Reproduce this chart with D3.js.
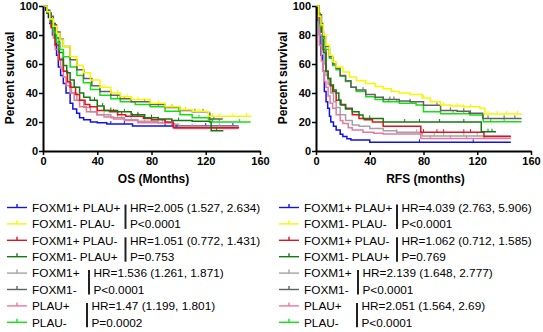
<!DOCTYPE html>
<html>
<head>
<meta charset="utf-8">
<title>FOXM1 PLAU survival</title>
<script src="https://cdnjs.cloudflare.com/ajax/libs/d3/7.8.5/d3.min.js"></script>
<style>
  body { margin: 0; background: #fff; }
  svg { display: block; font-family: Arial, "Liberation Sans", sans-serif; }
  .axis text { font-size: 11px; font-weight: bold; fill: #000; }
  .axis path, .axis line { stroke: #000; }
  .axis path { stroke-width: 2; }
  .axis line { stroke-width: 1.5; }
  .ttl { font-size: 12px; font-weight: bold; }
  .leg { font-size: 11.8px; }
</style>
</head>
<body>
<div id="chart"></div>
<script>
// groups, same order in both panels
const groups = ["FOXM1+ PLAU+", "FOXM1- PLAU-", "FOXM1+ PLAU-", "FOXM1- PLAU+", "FOXM1+", "FOXM1-", "PLAU+", "PLAU-"];
const colors = ["#1212e8", "#f7f700", "#e0141c", "#137a13", "#a3a3a3", "#626262", "#e8789e", "#14e014"];
const xTicks = [0, 40, 80, 120, 160];
const yTicks = [0, 20, 40, 60, 80, 100];

// OS curves [months, % survival]
const osBlue = [[0,100],[2,97],[4,92],[5,88],[7,80],[8.8,74],[10,66],[11.3,58],[13,52],[15,46.5],[17,40],[20,33],[22,29],[24.8,26],[27,23],[30,21.5],[35,20],[40,19.5],[47,18.6],[66,17.2],[144,17.2]];
const osYellow = [[0,100],[3,96],[5,91],[7.6,86],[10,81],[12.5,76.5],[15,72],[20,65],[25,59],[29.7,54],[35,49],[42,44],[50,40],[57,37.5],[65,35.5],[79,33],[90,30.5],[101,28.5],[110,27.5],[121,27],[122,24],[153,23.5]];
const osRed = [[0,100],[3,95],[6,85],[9,73],[12,63],[15,55],[18,48],[20,44],[24,39],[27,35],[31,32],[34.5,30.5],[40,28],[49,27],[55,25],[61,24],[74,22.5],[80,21.5],[90,20],[96,16],[144,15.5]];
const osDkGreen = [[0,100],[3,95],[6,88],[9,78],[12,68],[15,59],[17.5,54],[20,49],[23,44],[27,40],[30,37],[34.7,35],[40,31],[45,28],[55,27],[65,25],[75,23],[85,22],[95,21],[110,20.5],[123,20],[124,14],[133,14]];
const osGray = [[0,100],[3,95],[6,86],[9,75],[12,64],[15,55],[18,47],[21,40],[25,35],[30,30],[35,27],[40,25],[50,23],[60,21.5],[70,20.5],[85,19.5],[95,18.5],[100,17],[144,16.5]];
const osDkGray = [[0,100],[3,97],[5,93],[7.6,87],[10,82],[12.5,77],[15,72],[20,63],[25,56],[30,50],[36,45],[42,41],[50,38.5],[57,36],[65,34],[79,32],[90,30],[101,28],[110,27],[122,26],[123,22],[132,21.5]];
const osPink = [[0,100],[3,95],[5,89],[7.6,78],[9,70],[11.3,63],[13,57],[15,51],[17,45],[20,40],[23,35],[27,30.5],[32,27],[39.6,25],[45,23.5],[52,22],[60,21],[70,19.5],[95,19],[97,15.5],[144,15.5]];
const osGreen = [[0,100],[3,96],[5,91],[7.6,82],[10,75],[12.5,70],[15,65],[20,58],[25,52],[29.7,47],[35,42.5],[42,38.5],[50,36],[57,34],[68,32],[79,30.5],[90,27.5],[101,25],[110,23],[122,21.5],[125,20],[153,20]];

// OS censored times
const osBlueCens = [50, 60, 90, 120, 140];
const osYellowCens = [45, 55, 62, 70, 85, 95, 105, 115, 125, 130, 140, 150];
const osRedCens = [40, 45, 52, 58, 66, 70, 85, 90];
const osDkGreenCens = [38, 44, 50, 60, 70, 80, 100, 128];
const osGrayCens = [45, 55, 65, 80, 110, 130];
const osDkGrayCens = [50, 60, 75, 95, 105, 112, 118, 126];
const osPinkCens = [48, 58, 75, 88, 110, 135];
const osGreenCens = [55, 65, 85, 100, 115, 130, 145];

// RFS curves [months, % survival]
const rfsBlue = [[0,100],[1.5,90],[2.5,80],[3.7,66],[5,55],[6.2,41],[7.5,34],[8.7,29.5],[10,24],[11,20],[13,17],[15,14.5],[18,11.5],[20,10],[23,8.5],[26,7.6],[40,6],[145,6]];
const rfsYellow = [[0,100],[2,93],[3.7,87],[5.5,80],[7.4,73],[10,66],[12.4,61.5],[15,58],[20,54.5],[25,51],[30,48.5],[37,46.5],[44,44.5],[50,43],[56,41],[62,40],[70,39],[79,36.5],[85,34],[92.7,31.7],[100,31],[110,30.5],[122,29.5],[125.7,25.5],[153,25.5]];
const rfsRed = [[0,100],[2,94],[4,82],[5.5,70],[7.4,55],[9,50],[10.5,45],[12.4,41],[15,35],[18,32],[22,29.5],[27,25],[32,22.5],[36,21.5],[42,20],[50,17],[78,13],[125,10],[145,10]];
const rfsDkGreen = [[0,100],[2,94],[4,82],[5.5,68],[7.4,55],[9,50],[11,45.5],[13,42],[15,40],[17,35],[18.6,31.7],[22,29],[27,27],[32,24.8],[35,22.5],[50,20],[123,13.3],[134,13.3]];
const rfsGray = [[0,100],[1.5,92],[3,80],[4.5,70],[6,60],[7.5,52],[9,46],[11,40],[13,34],[15,30],[18,25],[22,21],[27,18],[32,17],[40,15.5],[50,14],[60,13],[77,12.5],[79,10.3],[145,10.3]];
const rfsDkGray = [[0,100],[1.5,95],[3,88],[5,79],[7,72],[10,65],[12.4,60],[15,57],[18,52],[22,48.5],[26,44],[30,42],[37,39],[44,37],[50,35.5],[62,34.5],[70,34],[80,31.5],[92.7,28],[105,27.5],[114,26],[124,22.5],[153,22.5]];
const rfsPink = [[0,100],[1.5,90],[2.5,73],[4,62],[5,55],[6.2,48],[7.4,44],[9,38],[10.5,33],[12.4,29.4],[15,25],[18,21],[20,19],[24,16],[27,14.5],[35,13],[43,12.2],[50,11.8],[78,8.7],[145,8.7]];
const rfsGreen = [[0,100],[1.5,94],[3,86],[5,77.7],[7,70],[10,64],[12.4,59],[15,56],[18,51.5],[22,48],[26,44],[30,41],[37,37.5],[44,35.5],[50,34],[62,33],[74.5,31.7],[80,27],[92.7,25.7],[114.6,24.8],[124.5,20.2],[153,20.2]];

// RFS censored times
const rfsBlueCens = [77, 117];
const rfsYellowCens = [80, 95, 105, 110, 115, 128, 135, 142, 150];
const rfsRedCens = [80, 90, 95, 110, 115];
const rfsDkGreenCens = [40, 66, 77, 92, 110, 128, 131];
const rfsGrayCens = [60, 75, 88, 95, 110, 120];
const rfsPinkCens = [85, 100, 112, 125];
const rfsDkGrayCens = [30, 35, 50, 55, 58, 70, 90, 100, 110, 115, 128, 140, 148];
const rfsGreenCens = [50, 54, 60, 102, 110, 115, 130, 140];

// legend texts, one pair of groups per comparison
const osHR = ["HR=2.005 (1.527, 2.634)", "HR=1.051 (0.772, 1.431)", "HR=1.536 (1.261, 1.871)", "HR=1.47 (1.199, 1.801)"];
const osP = ["P<0.0001", "P=0.753", "P<0.0001", "P=0.0002"];
const rfsHR = ["HR=4.039 (2.763, 5.906)", "HR=1.062 (0.712, 1.585)", "HR=2.139 (1.648, 2.777)", "HR=2.051 (1.564, 2.69)"];
const rfsP = ["P<0.0001", "P=0.769", "P<0.0001", "P<0.0001"];

const osCurves = [osBlue, osYellow, osRed, osDkGreen, osGray, osDkGray, osPink, osGreen];
const osCens = [osBlueCens, osYellowCens, osRedCens, osDkGreenCens, osGrayCens, osDkGrayCens, osPinkCens, osGreenCens];
const rfsCurves = [rfsBlue, rfsYellow, rfsRed, rfsDkGreen, rfsGray, rfsDkGray, rfsPink, rfsGreen];
const rfsCens = [rfsBlueCens, rfsYellowCens, rfsRedCens, rfsDkGreenCens, rfsGrayCens, rfsDkGrayCens, rfsPinkCens, rfsGreenCens];

const svg = d3.select('#chart').append('svg')
    .attr('width', 543)
    .attr('height', 332);

// draw order (back to front)
const drawOrder = [0, 4, 6, 2, 3, 7, 5, 1];

function survAt(curve, t) {
    let s = curve[0][1];
    for (const p of curve) { if (p[0] <= t) s = p[1]; }
    return s;
}

function panel(x0, x1, curves, cens, xTitle) {
    const x = d3.scaleLinear().domain([0, 160]).range([x0, x1]);
    const y = d3.scaleLinear().domain([0, 100]).range([151, 6]);
    const g = svg.append('g');

    const line = d3.line()
        .x(d => x(d[0]))
        .y(d => y(d[1]))
        .curve(d3.curveStepAfter);

    drawOrder.forEach(i => {
        g.append('path')
            .attr('d', line(curves[i]))
            .attr('fill', 'none')
            .attr('stroke', colors[i])
            .attr('stroke-width', 1.5);
        g.selectAll(null)
            .data(cens[i])
            .join('line')
            .attr('x1', d => x(d))
            .attr('x2', d => x(d))
            .attr('y1', d => y(survAt(curves[i], d)))
            .attr('y2', d => y(survAt(curves[i], d)) - 3)
            .attr('stroke', colors[i])
            .attr('stroke-width', 1);
    });

    g.append('g')
        .attr('class', 'axis')
        .attr('transform', 'translate(0,151)')
        .call(d3.axisBottom(x).tickValues(xTicks).tickSize(4).tickPadding(2).tickSizeOuter(0));
    g.append('g')
        .attr('class', 'axis')
        .attr('transform', `translate(${x0},0)`)
        .call(d3.axisLeft(y).tickValues(yTicks).tickSize(4).tickPadding(1).tickSizeOuter(0));

    g.append('text')
        .attr('class', 'ttl')
        .attr('x', (x0 + x1) / 2 + 2)
        .attr('y', 183)
        .attr('text-anchor', 'middle')
        .text(xTitle);
    g.append('text')
        .attr('class', 'ttl')
        .attr('transform', `translate(${x0 - 29},78) rotate(-90)`)
        .attr('text-anchor', 'middle')
        .text('Percent survival');
}

panel(43, 260, osCurves, osCens, 'OS (Months)');
panel(316, 531, rfsCurves, rfsCens, 'RFS (months)');

const rowGap = 16.4;

function legend(lx, barX, hr, pv) {
    const g = svg.append('g');
    groups.forEach((name, i) => {
        const cy = 207.5 + i * rowGap;
        g.append('line')
            .attr('x1', lx).attr('x2', lx + 20)
            .attr('y1', cy).attr('y2', cy)
            .attr('stroke', colors[i]).attr('stroke-width', 1.4);
        g.append('line')
            .attr('x1', lx + 10).attr('x2', lx + 10)
            .attr('y1', cy).attr('y2', cy - 3.5)
            .attr('stroke', colors[i]).attr('stroke-width', 1.4);
        g.append('text')
            .attr('class', 'leg')
            .attr('x', lx + 25)
            .attr('y', cy + 4.2)
            .text(name);
    });
    hr.forEach((h, k) => {
        const top = 207.5 + 2 * k * rowGap;
        g.append('line')
            .attr('x1', barX[k]).attr('x2', barX[k])
            .attr('y1', top - 3).attr('y2', top + rowGap + 5)
            .attr('stroke', '#222').attr('stroke-width', 2);
        g.append('text')
            .attr('class', 'leg')
            .attr('x', barX[k] + 4.5)
            .attr('y', top + 4.2)
            .text(h);
        g.append('text')
            .attr('class', 'leg')
            .attr('x', barX[k] + 4.5)
            .attr('y', top + rowGap + 4.2)
            .text(pv[k]);
    });
}

legend(7, [125.5, 125.5, 89, 87], osHR, osP);
legend(279, [397, 397, 358, 357], rfsHR, rfsP);
</script>
</body>
</html>
